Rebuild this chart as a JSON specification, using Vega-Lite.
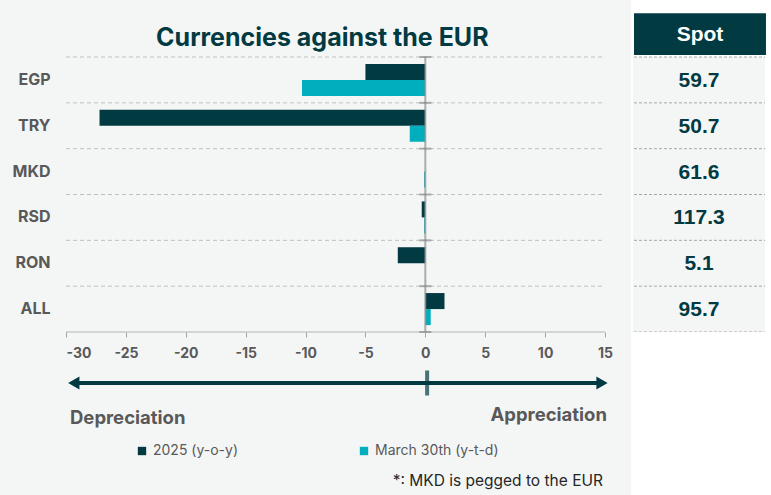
{
  "$schema": "https://vega.github.io/schema/vega-lite/v6.json",
  "background": "#F4F6F6",
  "padding": {"left": 12, "top": 0, "right": 0, "bottom": 0},
  "autosize": {"type": "pad"},
  "bounds": "flush",
  "spacing": 0,
  "config": {"view": {"stroke": null}, "font": "Inter", "text": {"font": "Inter"}},
  "datasets": {
    "fx": [
      {"currency": "EGP", "series": "2025 (y-o-y)", "value": -5.0},
      {"currency": "EGP", "series": "March 30th (y-t-d)", "value": -10.3},
      {"currency": "TRY", "series": "2025 (y-o-y)", "value": -27.2},
      {"currency": "TRY", "series": "March 30th (y-t-d)", "value": -1.3},
      {"currency": "MKD", "series": "2025 (y-o-y)", "value": 0.0},
      {"currency": "MKD", "series": "March 30th (y-t-d)", "value": -0.1},
      {"currency": "RSD", "series": "2025 (y-o-y)", "value": -0.3},
      {"currency": "RSD", "series": "March 30th (y-t-d)", "value": -0.1},
      {"currency": "RON", "series": "2025 (y-o-y)", "value": -2.3},
      {"currency": "RON", "series": "March 30th (y-t-d)", "value": 0.0},
      {"currency": "ALL", "series": "2025 (y-o-y)", "value": 1.6},
      {"currency": "ALL", "series": "March 30th (y-t-d)", "value": 0.45}
    ],
    "spot": [
      {"currency": "EGP", "spot": 59.7},
      {"currency": "TRY", "spot": 50.7},
      {"currency": "MKD", "spot": 61.6},
      {"currency": "RSD", "spot": 117.3},
      {"currency": "RON", "spot": 5.1},
      {"currency": "ALL", "spot": 95.7}
    ]
  },
  "vconcat": [
    {
      "width": 705,
      "height": 332,
      "layer": [
        {
          "data": {"values": [{}]},
          "mark": {"type": "rect", "color": "#FFFFFF"},
          "encoding": {
            "x": {"datum": 17.17, "scale": {"domain": [-30, 28.86], "nice": false, "zero": false}},
            "x2": {"datum": 28.86}
          }
        },
        {
          "data": {"name": "spot"},
          "mark": {"type": "bar", "color": "#F4F6F6"},
          "encoding": {
            "y": {"field": "currency", "type": "nominal", "scale": {"type": "band", "domain": ["Spot", "EGP", "TRY", "MKD", "RSD", "RON", "ALL"], "paddingInner": 0, "paddingOuter": 0.122, "align": 1}},
            "x": {"datum": 17.34},
            "x2": {"datum": 28.36}
          }
        },
        {
          "data": {"values": [{"currency": "Spot"}]},
          "mark": {"type": "bar", "color": "#023A42", "height": {"band": 0.91}},
          "encoding": {
            "y": {"field": "currency", "type": "nominal"},
            "x": {"datum": 17.42},
            "x2": {"datum": 28.44}
          }
        },
        {
          "data": {"values": [{"currency": "Spot"}]},
          "mark": {"type": "text", "text": "Spot", "color": "#FFFFFF", "font": "Liberation Sans", "fontWeight": "bold", "fontSize": 21, "baseline": "middle", "align": "center", "dy": 1},
          "encoding": {
            "y": {"field": "currency", "type": "nominal"},
            "x": {"datum": 22.93}
          }
        },
        {
          "data": {"name": "spot"},
          "mark": {"type": "text", "color": "#023A42", "font": "Liberation Sans", "fontWeight": "bold", "fontSize": 21, "baseline": "middle", "align": "center", "dy": 1},
          "encoding": {
            "y": {"field": "currency", "type": "nominal"},
            "x": {"datum": 22.85},
            "text": {"field": "spot", "type": "quantitative", "format": ".1f"}
          }
        },
        {
          "data": {"name": "spot"},
          "mark": {"type": "rule", "color": "#A6A6A6", "strokeWidth": 1, "strokeDash": [3, 2]},
          "encoding": {
            "y": {"field": "currency", "type": "nominal", "bandPosition": 0},
            "x": {"datum": 17.42},
            "x2": {"datum": 28.36}
          }
        },
        {
          "data": {"name": "spot"},
          "transform": [{"filter": "datum.currency === 'ALL'"}],
          "mark": {"type": "rule", "color": "#A6A6A6", "strokeWidth": 1, "strokeDash": [3, 2]},
          "encoding": {
            "y": {"field": "currency", "type": "nominal", "bandPosition": 1},
            "x": {"datum": 17.42},
            "x2": {"datum": 28.36}
          }
        },
        {
          "data": {"name": "spot"},
          "mark": {"type": "rule", "color": "#BFBFBF", "strokeWidth": 1, "strokeDash": [4, 3]},
          "encoding": {
            "y": {"field": "currency", "type": "nominal", "bandPosition": 0},
            "x": {"datum": -30},
            "x2": {"datum": 15}
          }
        },
        {
          "data": {"name": "spot"},
          "transform": [{"filter": "datum.currency === 'ALL'"}],
          "mark": {"type": "rule", "color": "#C8C8C8", "strokeWidth": 1.5},
          "encoding": {
            "y": {"field": "currency", "type": "nominal", "bandPosition": 1},
            "x": {"datum": -30},
            "x2": {"datum": 15}
          }
        },
        {
          "data": {"name": "fx"},
          "mark": {"type": "bar"},
          "encoding": {
            "y": {"field": "currency", "type": "nominal", "axis": {"values": ["EGP", "TRY", "MKD", "RSD", "RON", "ALL"], "title": null, "domain": false, "ticks": false, "grid": false, "labelFont": "Inter", "labelFontWeight": "bold", "labelFontSize": 16, "labelColor": "#595959", "labelPadding": 16, "minExtent": 54, "maxExtent": 54, "zindex": 1}},
            "yOffset": {"field": "series", "type": "nominal", "scale": {"domain": ["2025 (y-o-y)", "March 30th (y-t-d)"], "paddingInner": 0, "paddingOuter": 0.43}},
            "x": {"field": "value", "type": "quantitative", "axis": {"values": [-30, -25, -20, -15, -10, -5, 0, 5, 10, 15], "labelExpr": "datum.value < 0 ? '-' + abs(datum.value) : '' + datum.value", "title": null, "domain": false, "grid": false, "ticks": true, "tickSize": 5, "tickColor": "#A6A6A6", "labelFont": "Inter", "labelFontWeight": "bold", "labelFontSize": 14, "labelColor": "#595959", "labelPadding": 9, "zindex": 1}},
            "color": {"field": "series", "type": "nominal", "scale": {"domain": ["2025 (y-o-y)", "March 30th (y-t-d)"], "range": ["#023A42", "#00AEBD"]},
              "legend": {"orient": "none", "legendX": 69, "legendY": 444, "direction": "horizontal", "title": null, "symbolType": "square", "symbolSize": 70, "symbolStrokeWidth": 0, "labelFont": "Inter", "labelFontSize": 14, "labelColor": "#595959", "columnPadding": 118, "padding": 0, "labelLimit": 300}}
          }
        },
        {
          "data": {"name": "spot"},
          "mark": {"type": "tick", "orient": "vertical", "size": 45.83, "thickness": 2, "color": "#8C8C8C"},
          "encoding": {
            "y": {"field": "currency", "type": "nominal"},
            "x": {"datum": 0}
          }
        },
        {
          "data": {"name": "spot"},
          "mark": {"type": "tick", "orient": "horizontal", "size": 12, "thickness": 2, "color": "#8C8C8C"},
          "encoding": {
            "y": {"field": "currency", "type": "nominal", "bandPosition": 0},
            "x": {"datum": 0}
          }
        },
        {
          "data": {"name": "spot"},
          "transform": [{"filter": "datum.currency === 'ALL'"}],
          "mark": {"type": "tick", "orient": "horizontal", "size": 12, "thickness": 2, "color": "#8C8C8C"},
          "encoding": {
            "y": {"field": "currency", "type": "nominal", "bandPosition": 1},
            "x": {"datum": 0}
          }
        },
        {
          "data": {"values": [{"currency": "Spot"}]},
          "mark": {"type": "text", "text": "Currencies against the EUR", "color": "#023A42", "font": "Inter", "fontWeight": "bold", "fontSize": 25, "baseline": "middle", "align": "center", "dy": 4},
          "encoding": {
            "y": {"field": "currency", "type": "nominal"},
            "x": {"datum": -8.6}
          }
        }
      ]
    },
    {
      "width": 705,
      "height": 163,
      "layer": [
        {
          "data": {"values": [{}]},
          "mark": {"type": "rect", "color": "#FFFFFF"},
          "encoding": {
            "x": {"datum": 17.17, "scale": {"domain": [-30, 28.86], "nice": false, "zero": false}, "axis": null},
            "x2": {"datum": 28.86}
          }
        },
        {
          "data": {"values": [{"part": "arrow"}]},
          "mark": {"type": "rule", "color": "#023A42", "strokeWidth": 4},
          "encoding": {
            "y": {"field": "part", "type": "nominal", "axis": null, "scale": {"type": "band", "domain": ["arrow", "label", "legend", "note"], "paddingInner": 0, "paddingOuter": 0.547, "align": 1}},
            "x": {"datum": -29.4},
            "x2": {"datum": 14.8}
          }
        },
        {
          "data": {"values": [{"part": "arrow"}]},
          "mark": {"type": "point", "shape": "triangle-left", "filled": true, "color": "#023A42", "size": 170, "opacity": 1},
          "encoding": {
            "y": {"field": "part", "type": "nominal"},
            "x": {"datum": -29.35}
          }
        },
        {
          "data": {"values": [{"part": "arrow"}]},
          "mark": {"type": "point", "shape": "triangle-right", "filled": true, "color": "#023A42", "size": 170, "opacity": 1},
          "encoding": {
            "y": {"field": "part", "type": "nominal"},
            "x": {"datum": 14.75}
          }
        },
        {
          "data": {"values": [{"part": "arrow"}]},
          "mark": {"type": "tick", "orient": "vertical", "size": 25, "thickness": 4, "color": "#023A42"},
          "encoding": {
            "y": {"field": "part", "type": "nominal"},
            "x": {"datum": 0.15}
          }
        },
        {
          "data": {"values": [{"part": "label", "text": "Depreciation"}]},
          "mark": {"type": "text", "align": "left", "baseline": "middle", "font": "Inter", "fontWeight": "bold", "fontSize": 18.5, "color": "#595959", "dx": 4, "dy": 3},
          "encoding": {
            "y": {"field": "part", "type": "nominal"},
            "x": {"datum": -30},
            "text": {"field": "text"}
          }
        },
        {
          "data": {"values": [{"part": "label", "text": "Appreciation"}]},
          "mark": {"type": "text", "align": "right", "baseline": "middle", "font": "Inter", "fontWeight": "bold", "fontSize": 18.5, "color": "#595959", "dx": 2, "dy": 0},
          "encoding": {
            "y": {"field": "part", "type": "nominal"},
            "x": {"datum": 15},
            "text": {"field": "text"}
          }
        },
        {
          "data": {"values": [{"part": "note", "text": "*: MKD is pegged to the EUR"}]},
          "mark": {"type": "text", "align": "right", "baseline": "middle", "font": "Inter", "fontSize": 15.5, "color": "#262626", "dx": -2, "dy": 2},
          "encoding": {
            "y": {"field": "part", "type": "nominal"},
            "x": {"datum": 15},
            "text": {"field": "text"}
          }
        }
      ]
    }
  ]
}
